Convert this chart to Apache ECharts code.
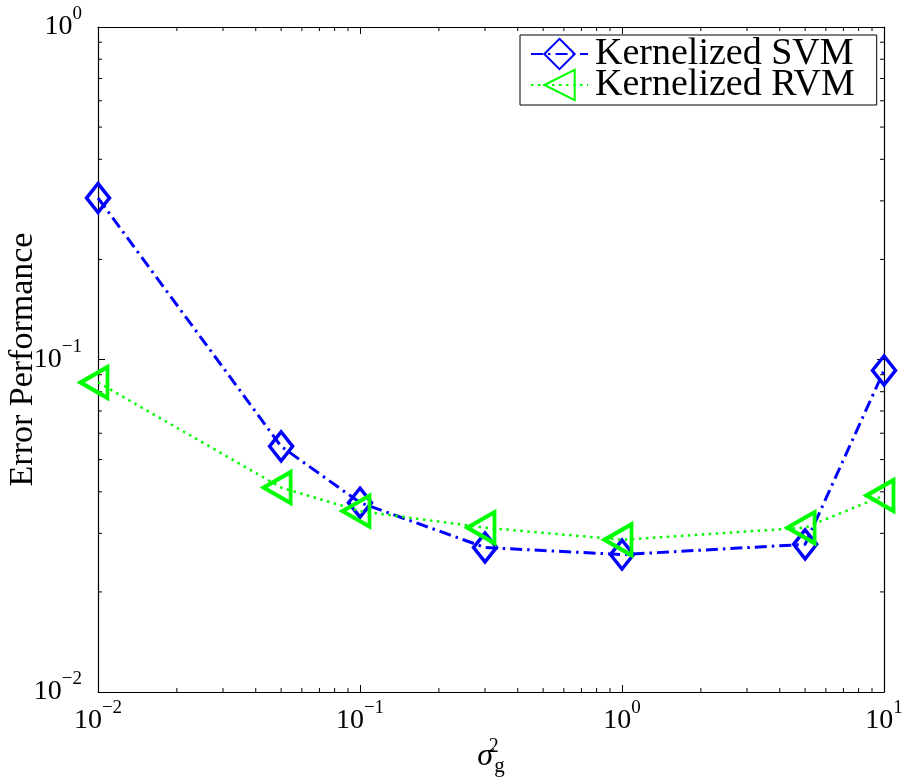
<!DOCTYPE html>
<html>
<head>
<meta charset="utf-8">
<script src="https://cdn.jsdelivr.net/npm/echarts@6/dist/echarts.min.js"></script>
<style>
html,body{margin:0;padding:0;background:#fff;}
#chart{width:903px;height:783px;}
</style>
</head>
<body>
<div id="chart"></div>
<script>
// ---- data ----
var sigmaValues = [0.01, 0.05, 0.1, 0.3, 1, 5, 10];
var svmError = [0.306, 0.0548, 0.0371, 0.0272, 0.0259, 0.0278, 0.0927];
var rvmError = [0.0853, 0.0412, 0.0350, 0.0312, 0.0287, 0.0312, 0.0390];
var seriesNames = ['Kernelized SVM', 'Kernelized RVM'];
var xRange = [0.01, 10];
var yRange = [0.01, 1];
var xMinorTicks = [0.02,0.03,0.04,0.05,0.06,0.07,0.08,0.09,0.2,0.3,0.4,0.5,0.6,0.7,0.8,0.9,2,3,4,5,6,7,8,9];
var yMinorTicks = [0.02,0.03,0.04,0.05,0.06,0.07,0.08,0.09,0.2,0.3,0.4,0.5,0.6,0.7,0.8,0.9];

var FONT = 'Liberation Serif';

function pairs(xs, ys) { return xs.map(function (x, i) { return [x, ys[i]]; }); }

function powLabel(v) {
  var e = Math.round(Math.log10(v));
  var s = e < 0 ? '\u2212' + (-e) : '' + e;
  return '{b|10}{e|' + s + '}';
}
var labelRich = {
  b: { fontFamily: FONT, fontSize: 28, lineHeight: 44, verticalAlign: 'middle', color: '#000' },
  e: { fontFamily: FONT, fontSize: 19, lineHeight: 20, verticalAlign: 'top', color: '#000' }
};

var axisCommon = {
  type: 'log',
  logBase: 10,
  splitLine: { show: false },
  nameMoveOverlap: false,
  axisLine: { show: true, onZero: false, lineStyle: { color: '#000', width: 1.2 } },
  axisTick: { show: true, inside: true, length: 7, lineStyle: { color: '#000', width: 1 } }
};

function minorRender(isX) {
  return function (params, api) {
    var v = api.value(isX ? 0 : 1);
    var a, b, L = 4;
    if (isX) {
      a = api.coord([v, yRange[0]]);
      b = api.coord([v, yRange[1]]);
      return { type: 'group', children: [
        { type: 'line', shape: { x1: a[0], y1: a[1], x2: a[0], y2: a[1] - L }, style: { stroke: '#000', lineWidth: 1 } },
        { type: 'line', shape: { x1: b[0], y1: b[1], x2: b[0], y2: b[1] + L }, style: { stroke: '#000', lineWidth: 1 } }
      ]};
    } else {
      a = api.coord([xRange[0], v]);
      b = api.coord([xRange[1], v]);
      return { type: 'group', children: [
        { type: 'line', shape: { x1: a[0], y1: a[1], x2: a[0] + L, y2: a[1] }, style: { stroke: '#000', lineWidth: 1 } },
        { type: 'line', shape: { x1: b[0], y1: b[1], x2: b[0] - L, y2: b[1] }, style: { stroke: '#000', lineWidth: 1 } }
      ]};
    }
  };
}

var chart = echarts.init(document.getElementById('chart'), null, { renderer: 'canvas' });
var option = {
  backgroundColor: '#fff',
  animation: false,
  grid: { left: 98, right: 19, top: 27, bottom: 91, containLabel: false, outerBoundsMode: 'none' },
  legend: {
    data: seriesNames,
    orient: 'vertical',
    left: 520,
    top: 35,
    padding: [0, 22, 1, 10],
    itemGap: -7,
    itemWidth: 57,
    itemHeight: 38,
    borderColor: '#000',
    borderWidth: 1,
    backgroundColor: '#fff',
    textStyle: { fontFamily: FONT, fontSize: 38, color: '#000', lineHeight: 30, padding: [0, 0, 0, 2] }
  },
  xAxis: [
    Object.assign({}, axisCommon, {
      position: 'bottom', min: xRange[0], max: xRange[1],
      name: '{s|\u03c3}{sup|2}{sub|g}',
      nameLocation: 'middle', nameGap: 45,
      nameTextStyle: {
        rich: {
          s: { fontFamily: FONT, fontStyle: 'italic', fontSize: 32, lineHeight: 40, verticalAlign: 'middle', color: '#000' },
          sup: { fontFamily: FONT, fontSize: 20, lineHeight: 20, verticalAlign: 'top', width: 1, color: '#000' },
          sub: { fontFamily: FONT, fontSize: 21, lineHeight: 12, verticalAlign: 'bottom', color: '#000' }
        }
      },
      axisLabel: { show: true, margin: 7, formatter: powLabel, rich: labelRich }
    }),
    Object.assign({}, axisCommon, {
      position: 'top', min: xRange[0], max: xRange[1],
      axisLabel: { show: false }
    })
  ],
  yAxis: [
    Object.assign({}, axisCommon, {
      position: 'left', min: yRange[0], max: yRange[1],
      name: 'Error Performance',
      nameLocation: 'middle', nameGap: 58,
      nameTextStyle: { fontFamily: FONT, fontSize: 34, color: '#000' },
      axisLabel: { show: true, margin: 16, formatter: powLabel, rich: labelRich }
    }),
    Object.assign({}, axisCommon, {
      position: 'right', min: yRange[0], max: yRange[1],
      axisLabel: { show: false }
    })
  ],
  series: [
    {
      name: seriesNames[0],
      type: 'line',
      xAxisIndex: 0, yAxisIndex: 0,
      data: pairs(sigmaValues, svmError),
      symbol: 'diamond',
      symbolSize: [23, 29],
      showAllSymbol: true,
      lineStyle: { color: '#0000ff', width: 3, type: [12, 5, 2.5, 5] },
      itemStyle: { color: 'rgba(255,255,255,0)', borderColor: '#0000ff', borderWidth: 3.5 },
      z: 3
    },
    {
      name: seriesNames[1],
      type: 'line',
      xAxisIndex: 0, yAxisIndex: 0,
      data: pairs(sigmaValues, rvmError),
      symbol: 'triangle',
      symbolRotate: 90,
      symbolSize: [31, 27],
      symbolOffset: [-4, 0],
      showAllSymbol: true,
      lineStyle: { color: '#00ff00', width: 2.5, type: [2.5, 4.5] },
      itemStyle: { color: 'rgba(255,255,255,0)', borderColor: '#00ff00', borderWidth: 4 },
      z: 4
    },
    {
      name: 'xMinor', type: 'custom', silent: true, xAxisIndex: 0, yAxisIndex: 0,
      data: xMinorTicks.map(function (v) { return [v, yRange[0]]; }),
      renderItem: minorRender(true), z: 2, clip: false
    },
    {
      name: 'yMinor', type: 'custom', silent: true, xAxisIndex: 0, yAxisIndex: 0,
      data: yMinorTicks.map(function (v) { return [xRange[0], v]; }),
      renderItem: minorRender(false), z: 2, clip: false
    }
  ]
};
chart.setOption(option);
</script>
</body>
</html>
